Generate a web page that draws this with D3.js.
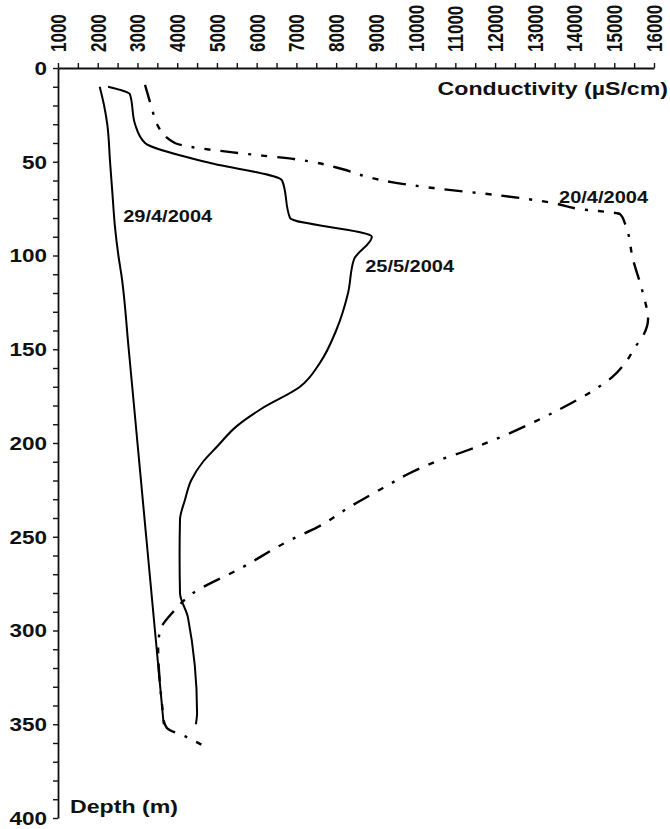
<!DOCTYPE html>
<html>
<head>
    <script src="https://d3js.org/d3.v7.min.js"></script>
</head>
<body style="margin:0;background:#fff">
    <script>
        const [width, height] = [670, 829]
        const margin = {top: 68, left: 58, right: 16, bottom: 11}

        // depth (m) and conductivity (µS/cm)
        const depth_20_4 = [9, 22, 30, 40, 42, 45, 49, 54, 58, 61, 64, 68, 72, 75, 78, 83, 102, 120, 134, 143, 149, 156, 165, 172, 182, 189, 197, 204, 209, 216, 224, 234, 245, 251, 267, 280, 290, 300, 309, 344, 348, 352, 357, 361];
        const cond_20_4 = [3190, 3370, 3490, 3940, 4320, 5400, 7090, 8170, 8780, 9430, 10440, 12130, 13460, 14060, 15150, 15270, 15470, 15720, 15850, 15720, 15520, 15320, 14940, 14470, 13630, 12960, 12125, 11290, 10620, 9860, 9180, 8350, 7520, 6920, 5580, 4400, 3900, 3570, 3520, 3640, 3660, 3740, 4250, 4620];

        const depth_29_4 = [10, 20, 30, 50, 67, 85, 100, 111, 150, 200, 250, 300, 350];
        const cond_29_4 = [2050, 2160, 2240, 2310, 2370, 2435, 2520, 2600, 2780, 3000, 3220, 3440, 3660];

        const depth_25_5 = [10, 14, 30, 40, 50, 60, 80, 90, 102, 120, 140, 157, 170, 182, 191, 202, 210, 220, 230, 241, 260, 280, 293, 344, 350];
        const cond_25_5 = [2260, 2810, 2940, 3190, 4700, 6640, 6840, 8900, 8450, 8300, 8000, 7600, 7090, 6100, 5500, 5000, 4650, 4350, 4200, 4070, 4060, 4070, 4270, 4500, 4470];

        const xTicks = d3.range(1000, 16001, 500);
        const yTicks = d3.range(0, 401, 10);

        const series = [
            {name: "20/4/2004", depth: depth_20_4, cond: cond_20_4, dash: "18,10,3,10,6,10", width: 2.4, label: [13610, 72]},
            {name: "29/4/2004", depth: depth_29_4, cond: cond_29_4, dash: null, width: 2, label: [2640, 82]},
            {name: "25/5/2004", depth: depth_25_5, cond: cond_25_5, dash: null, width: 2, label: [8730, 109]}
        ];

        const font = "'Liberation Sans', Arial, sans-serif";
        const stretch = 1.25;

        const x = d3.scaleLinear().domain([1000, 16000]).range([margin.left, width - margin.right]);
        const y = d3.scaleLinear().domain([0, 400]).range([margin.top, height - margin.bottom]);

        const svg = d3.select("body")
            .append("svg")
            .attr("width", width)
            .attr("height", height)
            .style("font-family", font);

        // top axis
        const xAxis = svg.append("g")
            .attr("transform", `translate(0,${margin.top})`)
            .call(d3.axisTop(x).tickValues(xTicks).tickSize(5).tickSizeOuter(0)
                .tickFormat(d => d % 1000 ? "" : d));
        xAxis.select(".domain").attr("stroke", "#111").attr("stroke-width", 1.8);
        xAxis.selectAll(".tick line").attr("stroke", "#111").attr("stroke-width", 1.4);
        xAxis.selectAll(".tick text")
            .attr("transform", `rotate(-90) scale(1,${stretch})`)
            .attr("x", 16)
            .attr("y", 0)
            .attr("dy", "0.35em")
            .attr("text-anchor", "start")
            .style("font-size", "17px")
            .style("font-weight", "bold")
            .style("font-family", font)
            .attr("fill", "#111");

        // left axis
        const yAxis = svg.append("g")
            .attr("transform", `translate(${margin.left},0)`)
            .call(d3.axisLeft(y).tickValues(yTicks).tickSize(5).tickSizeOuter(0)
                .tickFormat(d => d % 50 ? "" : d));
        yAxis.select(".domain").attr("stroke", "#111").attr("stroke-width", 1.8);
        yAxis.selectAll(".tick line").attr("stroke", "#111").attr("stroke-width", 1.4);
        yAxis.selectAll(".tick text")
            .attr("x", 0)
            .attr("transform", `translate(-11,0) scale(${stretch},1)`)
            .attr("dy", "0.35em")
            .style("font-size", "18px")
            .style("font-weight", "bold")
            .style("font-family", font)
            .attr("fill", "#111");

        // profiles (depth increases monotonically, so interpolate along y)
        const line = d3.line()
            .x(d => x(d[1]))
            .y(d => y(d[0]))
            .curve(d3.curveMonotoneY);

        series.forEach(s => {
            svg.append("path")
                .datum(d3.zip(s.depth, s.cond))
                .attr("d", line)
                .attr("fill", "none")
                .attr("stroke", "#000")
                .attr("stroke-width", s.width)
                .attr("stroke-dasharray", s.dash);

            svg.append("text")
                .attr("transform", `translate(${x(s.label[0])},${y(s.label[1])}) scale(${stretch},1)`)
                .style("font-size", "16px")
                .style("font-weight", "bold")
                .attr("fill", "#111")
                .text(s.name);
        });

        // axis titles
        svg.append("text")
            .attr("transform", `translate(${width - 2},95) scale(${stretch},1)`)
            .attr("text-anchor", "end")
            .style("font-size", "18.5px")
            .style("font-weight", "bold")
            .attr("fill", "#111")
            .text("Conductivity (µS/cm)");

        svg.append("text")
            .attr("transform", `translate(70,813) scale(${stretch},1)`)
            .style("font-size", "18.5px")
            .style("font-weight", "bold")
            .attr("fill", "#111")
            .text("Depth (m)");
    </script>
</body>
</html>
